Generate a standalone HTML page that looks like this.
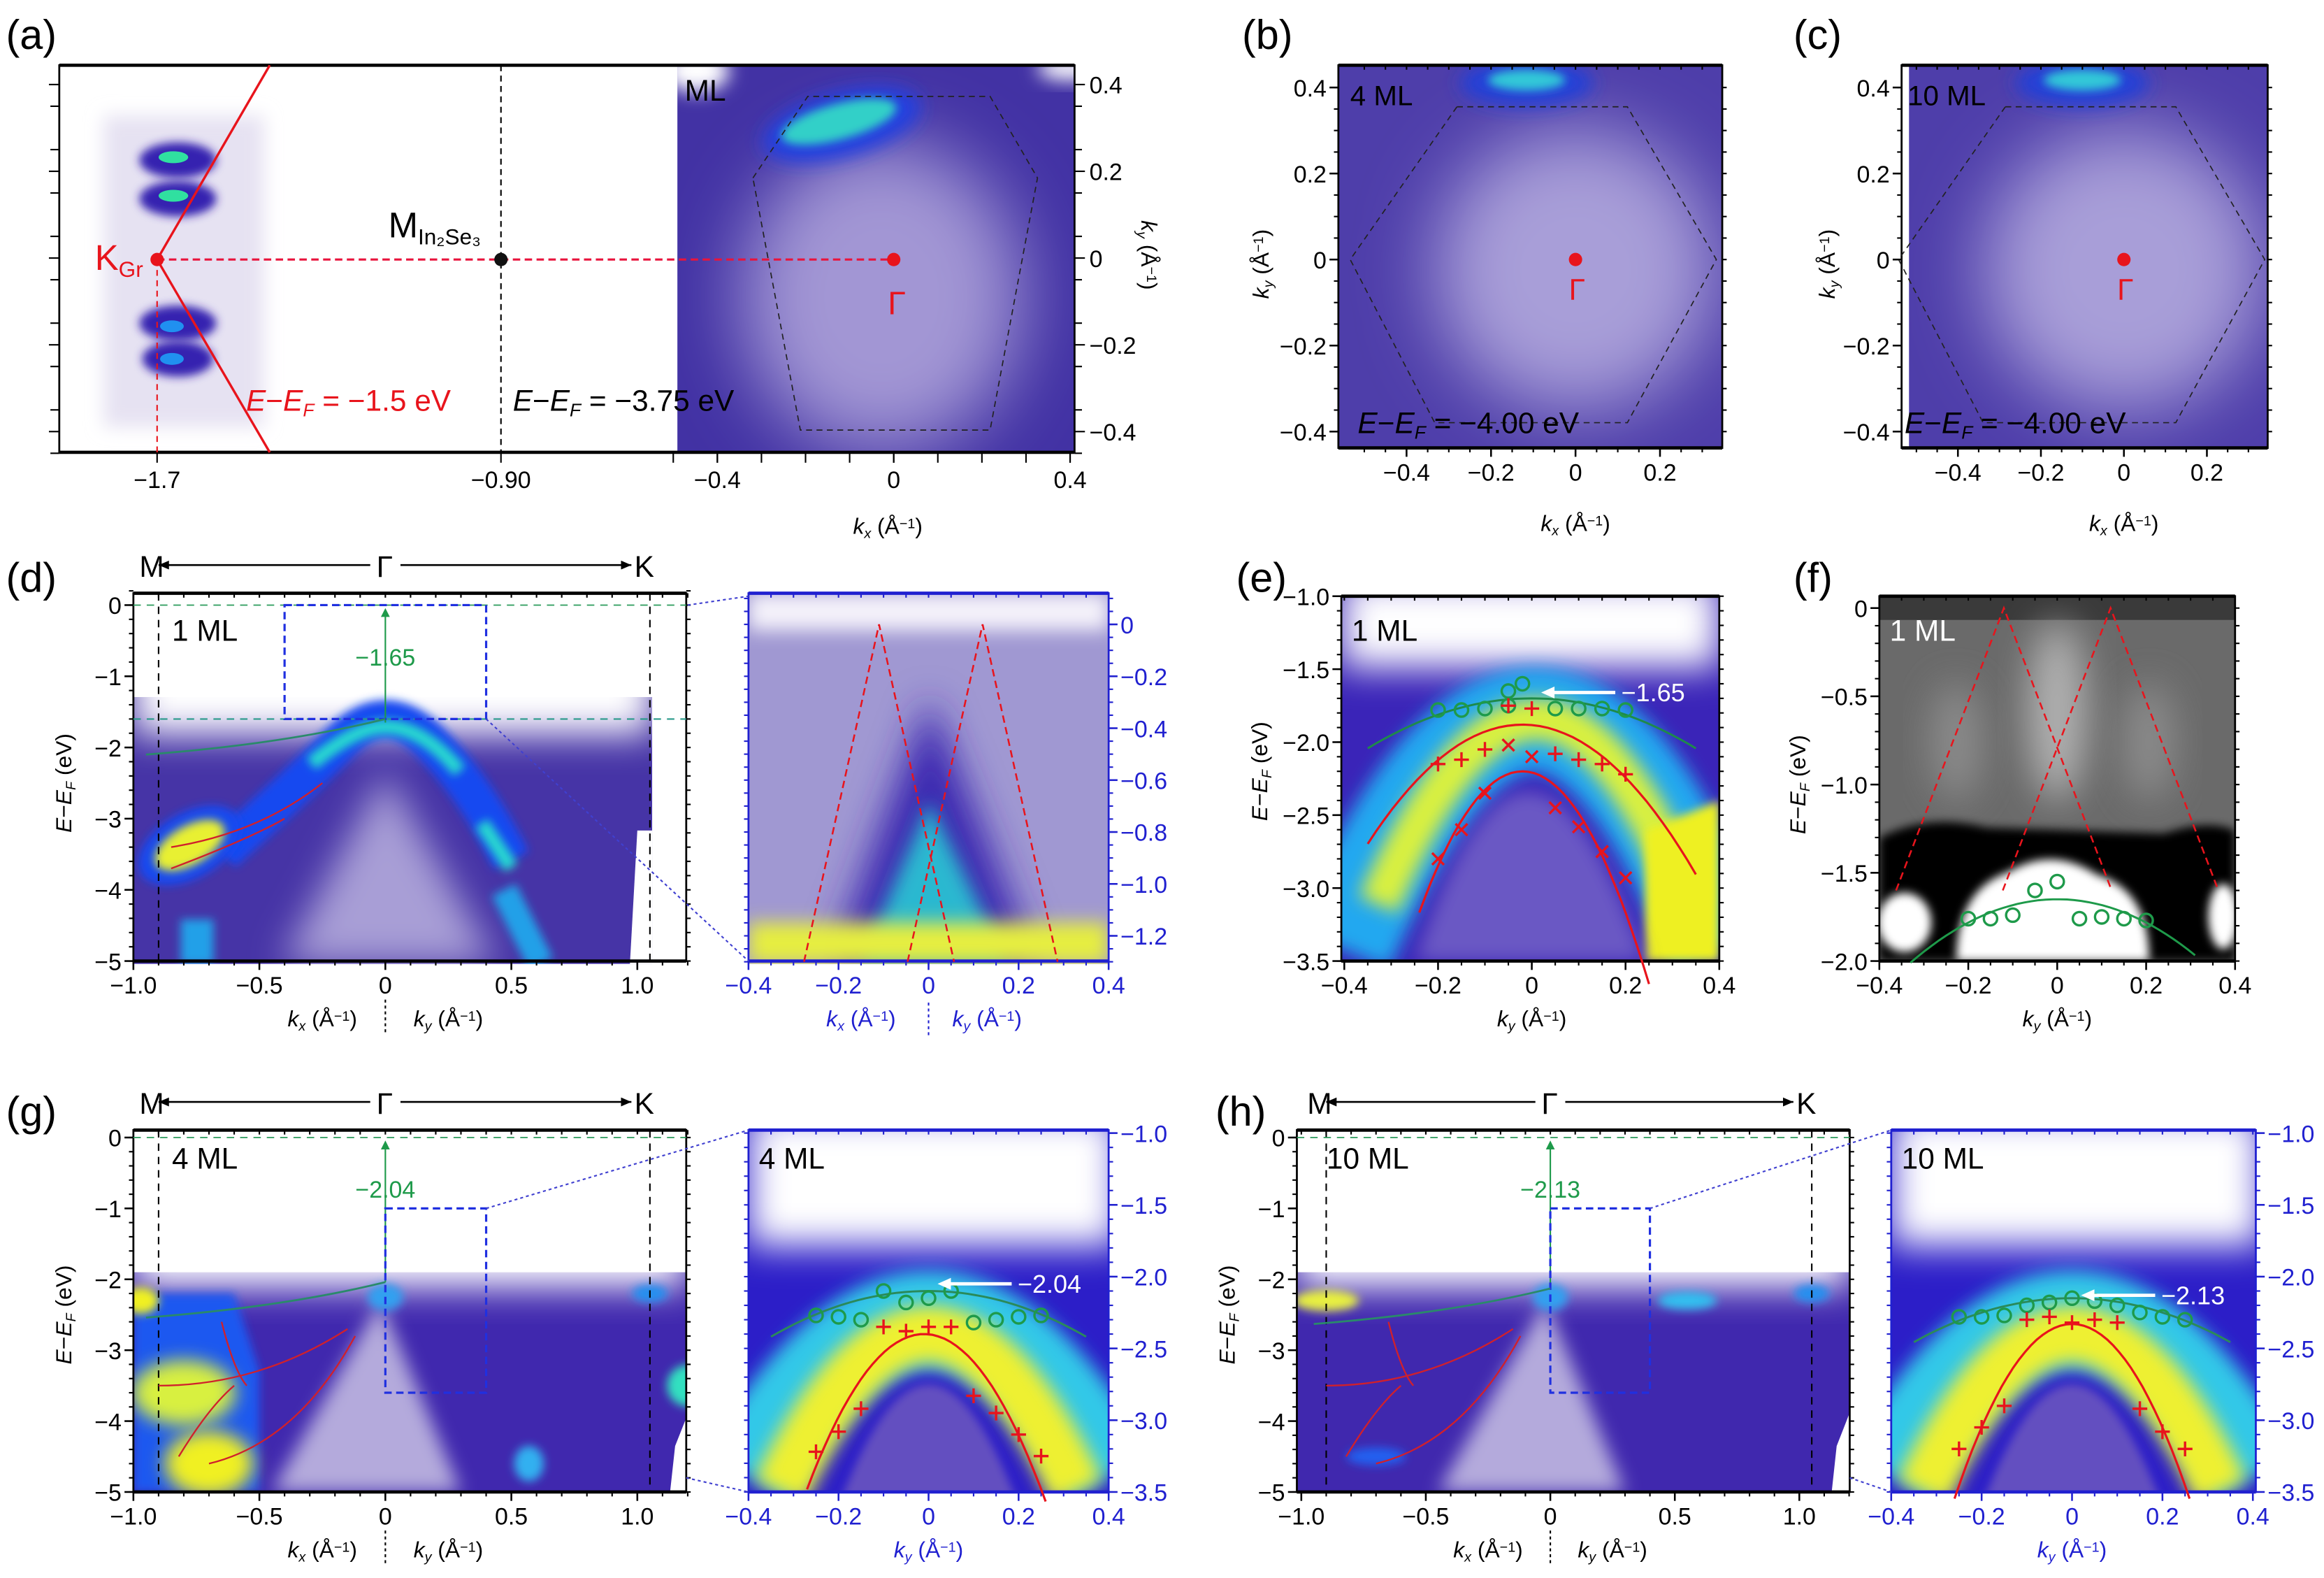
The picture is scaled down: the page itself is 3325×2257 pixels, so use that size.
<!DOCTYPE html>
<html><head><meta charset="utf-8"><style>
html,body{margin:0;padding:0;background:#fff}
svg{display:block}
text{font-family:"Liberation Sans",sans-serif}
</style></head><body>
<svg id="fig" xmlns="http://www.w3.org/2000/svg" width="3325" height="2257" viewBox="0 0 1568 1064" preserveAspectRatio="none">
<defs>
<filter id="b3" x="-50%" y="-50%" width="200%" height="200%"><feGaussianBlur stdDeviation="3"/></filter>
<filter id="b6" x="-50%" y="-50%" width="200%" height="200%"><feGaussianBlur stdDeviation="6"/></filter>
<filter id="b12" x="-50%" y="-50%" width="200%" height="200%"><feGaussianBlur stdDeviation="12"/></filter>
<filter id="b25" x="-50%" y="-50%" width="200%" height="200%"><feGaussianBlur stdDeviation="25"/></filter>
<clipPath id="cA"><rect x="457" y="44" width="268" height="261"/></clipPath>
<clipPath id="cB"><rect x="903" y="44" width="259" height="258"/></clipPath>
<clipPath id="cC"><rect x="1283" y="44" width="247" height="258"/></clipPath>
<clipPath id="cDL"><rect x="90" y="400" width="373" height="250"/></clipPath>
<clipPath id="cDR"><rect x="505" y="400" width="243" height="250"/></clipPath>
<clipPath id="cE"><rect x="905" y="402" width="255" height="246"/></clipPath>
<clipPath id="cF"><rect x="1268" y="402" width="240" height="246"/></clipPath>
<clipPath id="cGL"><rect x="90" y="762" width="373" height="244"/></clipPath>
<clipPath id="cGR"><rect x="505" y="762" width="243" height="244"/></clipPath>
<clipPath id="cHL"><rect x="875" y="762" width="373" height="244"/></clipPath>
<clipPath id="cHR"><rect x="1276" y="762" width="246" height="244"/></clipPath>
</defs>
<g id="dyn"></g>
</svg>
<script>
// ---------------- DATA ----------------
const aTickLabels = ["-1.7","-0.90","-0.4","0","0.4"];
const aTickVals = [-1.7,-0.90,-0.4,0,0.4];
const kyTicksA = [0.4,0.2,0,-0.2,-0.4];
const bcXTicks = [-0.4,-0.2,0,0.2];
const bcYTicks = [0.4,0.2,0,-0.2,-0.4];
const wideXTicks = [-1.0,-0.5,0,0.5,1.0];
const wideXLabels = ["-1.0","-0.5","0","0.5","1.0"];
const wideYTicks = [0,-1,-2,-3,-4,-5];
const zoomXTicks = [-0.4,-0.2,0,0.2,0.4];
const dRYTicks = [0,-0.2,-0.4,-0.6,-0.8,-1.0,-1.2];
const eYTicks = [-1.0,-1.5,-2.0,-2.5,-3.0,-3.5];
const fYTicks = [0,-0.5,-1.0,-1.5,-2.0];
const ghRYTicks = [-1.0,-1.5,-2.0,-2.5,-3.0,-3.5];
// panel e
const eCircK = [-0.2,-0.15,-0.1,-0.05,-0.05,-0.02,0.05,0.1,0.15,0.2];
const eCircE = [-1.78,-1.78,-1.77,-1.75,-1.65,-1.6,-1.77,-1.77,-1.77,-1.78];
const ePlusK = [-0.2,-0.15,-0.1,-0.05,0,0.05,0.1,0.15,0.2];
const ePlusE = [-2.15,-2.12,-2.05,-1.75,-1.77,-2.08,-2.12,-2.15,-2.22];
const eCrossK = [-0.2,-0.15,-0.1,-0.05,0,0.05,0.1,0.15,0.2];
const eCrossE = [-2.8,-2.6,-2.35,-2.02,-2.1,-2.45,-2.58,-2.75,-2.93];
const eGreen = {peak:-1.7, curv:2.8};
const eRed1 = {peak:-1.88, curv:7.5, x0:-0.02};
const eRed2 = {peak:-2.2, curv:20, x0:-0.02};
// panel f
const fCircK = [-0.2,-0.15,-0.1,-0.05,0,0.05,0.1,0.15,0.2];
const fCircE = [-1.76,-1.76,-1.74,-1.6,-1.55,-1.76,-1.75,-1.76,-1.77];
const fGreen = {peak:-1.65, curv:3.3};
const fDirac = [-0.12, 0.12];
const fDiracSlope = 6.6;
// panel d right
const dDirac = [-0.11, 0.12];
const dDiracSlope = 7.8;
// panel g right
const gCircK = [-0.25,-0.2,-0.15,-0.1,-0.05,0,0.05,0.1,0.15,0.2,0.25];
const gCircE = [-2.27,-2.28,-2.3,-2.1,-2.18,-2.15,-2.1,-2.32,-2.3,-2.28,-2.27];
const gPlusK = [-0.25,-0.2,-0.15,-0.1,-0.05,0,0.05,0.1,0.15,0.2,0.25];
const gPlusE = [-3.22,-3.08,-2.92,-2.35,-2.38,-2.35,-2.35,-2.83,-2.95,-3.1,-3.25];
const gGreen = {peak:-2.1, curv:2.6};
const gRed = {peak:-2.4, curv:16, x0:-0.01};
// panel h right
const hCircK = [-0.25,-0.2,-0.15,-0.1,-0.05,0,0.05,0.1,0.15,0.2,0.25];
const hCircE = [-2.28,-2.28,-2.27,-2.2,-2.18,-2.15,-2.17,-2.2,-2.25,-2.28,-2.3];
const hPlusK = [-0.25,-0.2,-0.15,-0.1,-0.05,0,0.05,0.1,0.15,0.2,0.25];
const hPlusE = [-3.2,-3.05,-2.9,-2.3,-2.28,-2.32,-2.3,-2.32,-2.92,-3.08,-3.2];
const hGreen = {peak:-2.15, curv:2.5};
const hRed = {peak:-2.33, curv:18, x0:0};

// ---------------- HELPERS ----------------
const NS="http://www.w3.org/2000/svg";
const root=document.getElementById('dyn');
const TS=16;
function mk(tag,attrs,parent,name){
  const e=document.createElementNS(NS,tag);
  for(const k in attrs) e.setAttribute(k,attrs[k]);
  
  
  (parent||root).appendChild(e);return e;
}
function txt(x,y,s,size,fill,parent,name,anchor,extra){
  const t=mk('text',Object.assign({x:x,y:y,'font-size':size,fill:fill,'text-anchor':anchor||'middle'},extra||{}),parent,name);
  t.textContent=s;return t;
}
function rich(x,y,parts,size,fill,name,anchor,extra){
  const t=mk('text',Object.assign({x:x,y:y,'font-size':size,fill:fill,'text-anchor':anchor||'start'},extra||{}),root,name);
  parts.forEach(([s,st])=>{const sp=document.createElementNS(NS,'tspan');
    if(st&&st.includes('i'))sp.setAttribute('font-style','italic');
    if(st&&st.includes('s')){sp.setAttribute('baseline-shift','-30%');sp.setAttribute('font-size',size*0.62);}
    if(st&&st.includes('p')){sp.setAttribute('baseline-shift','40%');sp.setAttribute('font-size',size*0.62);}
    sp.textContent=s;t.appendChild(sp);});
  return t;
}
const kUnit=(sub)=>[['k','i'],[sub,'is'],[' (\u00c5','' ],['\u22121','p'],[')','']];
const EEF=[['E','i'],['\u2212',''],['E','i'],['F','is'],[' (eV)','']];
function lin(d0,d1,p0,p1){return v=>p0+(v-d0)*(p1-p0)/(d1-d0);}
function fmt(v){return v===0?"0":(v<0?"\u2212":"")+Math.abs(v).toFixed(1);}
function bg(parent,shapes){shapes.forEach(s=>mk(s[0],s[1],parent,s[2]));}

function xAxis(p,vals,labels,color){
  const g=mk('g',{},root,p.name+'-x-axis');
  for(let v=p.xd0;v<=p.xd1+1e-9;v+=p.xminor){
    const x=p.sx(v);
    mk('line',{x1:x,y1:p.y1,x2:x,y2:p.y1+3,stroke:color,'stroke-width':1},g,'x-minor-tick');
    mk('line',{x1:x,y1:p.y0,x2:x,y2:p.y0+3,stroke:color,'stroke-width':1},g,'x-minor-tick-top');
  }
  vals.forEach((v,i)=>{const x=p.sx(v);
    mk('line',{x1:x,y1:p.y1,x2:x,y2:p.y1+6,stroke:color,'stroke-width':1.2},g,'x-major-tick');
    txt(x,p.y1+22,labels?labels[i].replace('-','\u2212'):fmt(v),TS,color,g,'x-tick-label');});
}
function yAxis(p,vals,side,color,labelDec){
  const g=mk('g',{},root,p.name+'-y-axis');
  const lo=Math.min(p.yd0,p.yd1),hi=Math.max(p.yd0,p.yd1);
  for(let v=lo;v<=hi+1e-9;v+=p.yminor){const y=p.sy(v);
    mk('line',{x1:p.x0,y1:y,x2:p.x0-3,y2:y,stroke:color},g,'y-minor-tick');
    mk('line',{x1:p.x1,y1:y,x2:p.x1+3,y2:y,stroke:color},g,'y-minor-tick-right');}
  vals.forEach(v=>{const y=p.sy(v);
    const x=side==='left'?p.x0:p.x1, d=side==='left'?-6:6;
    mk('line',{x1:x,y1:y,x2:x+d,y2:y,stroke:color,'stroke-width':1.2},g,'y-major-tick');
    const s=labelDec===0?(v===0?"0":"\u2212"+Math.abs(v)):fmt(v);
    txt(side==='left'?x-8:x+8,y+6,s,TS,color,g,'y-tick-label',side==='left'?'end':'start');});
}
function frame(p,color,name){mk('rect',{x:p.x0,y:p.y0,width:p.x1-p.x0,height:p.y1-p.y0,fill:'none',stroke:color,'stroke-width':1.3},root,name);
  mk('line',{x1:p.x0,y1:p.y0,x2:p.x1,y2:p.y0,stroke:color,'stroke-width':2.2},root,name+'-top');
  mk('line',{x1:p.x0,y1:p.y1,x2:p.x1,y2:p.y1,stroke:color,'stroke-width':2.2},root,name+'-bottom');}
function parab(p,c,k0,k1,stroke,w,name){
  let d="";for(let i=0;i<=40;i++){const k=k0+(k1-k0)*i/40;const E=c.peak-c.curv*Math.pow(k-(c.x0||0),2);
    d+=(i?"L":"M")+p.sx(k).toFixed(1)+","+p.sy(E).toFixed(1);}
  return mk('path',{d:d,fill:'none',stroke:stroke,'stroke-width':w},root,name);
}
function circles(p,ks,es,name){ks.forEach((k,i)=>mk('circle',{cx:p.sx(k),cy:p.sy(es[i]),r:4.5,fill:'none',stroke:'#1e9a4a','stroke-width':1.6},root,name));}
function pluses(p,ks,es,name){ks.forEach((k,i)=>{const x=p.sx(k),y=p.sy(es[i]);
  mk('path',{d:`M${x-5},${y}H${x+5}M${x},${y-5}V${y+5}`,stroke:'#e8141c','stroke-width':1.6},root,name);});}
function crosses(p,ks,es,name){ks.forEach((k,i)=>{const x=p.sx(k),y=p.sy(es[i]);
  mk('path',{d:`M${x-4},${y-4}L${x+4},${y+4}M${x+4},${y-4}L${x-4},${y+4}`,stroke:'#e8141c','stroke-width':1.6},root,name);});}
function dirac(p,apexes,slope,Ebot,name){apexes.forEach(a=>{const dk=-Ebot/slope;
  mk('path',{d:`M${p.sx(a-dk)},${p.sy(Ebot)}L${p.sx(a)},${p.sy(0)}L${p.sx(a+dk)},${p.sy(Ebot)}`,fill:'none',stroke:'#e8141c','stroke-width':1.2,'stroke-dasharray':'5,3'},root,name);});}

// ---------------- PANELS ----------------
const P={
 a:{name:'panel-a',x0:40,x1:725,y0:44,y1:305,sx:lin(0,0.4,603,722),sy:lin(0,0.4,174,57),yd0:-0.45,yd1:0.45,yminor:0.1},
 b:{name:'panel-b',x0:903,x1:1162,y0:44,y1:302,sx:lin(0,0.2,1063,1120),sy:lin(0,0.4,175,59),xd0:-0.5,xd1:0.3,xminor:0.05,yd0:-0.4,yd1:0.4,yminor:0.05},
 c:{name:'panel-c',x0:1283,x1:1530,y0:44,y1:302,sx:lin(0,0.2,1433,1489),sy:lin(0,0.4,175,59),xd0:-0.5,xd1:0.3,xminor:0.05,yd0:-0.4,yd1:0.4,yminor:0.05},
 dL:{name:'panel-d-wide',x0:90,x1:463,y0:400,y1:648,sx:lin(0,1,260,430),sy:lin(0,-5,408,648),xd0:-1,xd1:1.2,xminor:0.1,yd0:-5,yd1:0.2,yminor:0.2},
 dR:{name:'panel-d-zoom',x0:505,x1:748,y0:400,y1:648,sx:lin(-0.4,0.4,505,748),sy:lin(0,-1.2,421,631),xd0:-0.4,xd1:0.4,xminor:0.05,yd0:-1.3,yd1:0.1,yminor:0.05},
 e:{name:'panel-e',x0:905,x1:1160,y0:402,y1:648,sx:lin(-0.4,0.4,907,1160),sy:lin(-1,-3.5,402,648),xd0:-0.4,xd1:0.4,xminor:0.05,yd0:-3.5,yd1:-1,yminor:0.1},
 f:{name:'panel-f',x0:1268,x1:1508,y0:402,y1:648,sx:lin(-0.4,0.4,1268,1508),sy:lin(0,-2,410,648),xd0:-0.4,xd1:0.4,xminor:0.05,yd0:-2,yd1:0,yminor:0.1},
 gL:{name:'panel-g-wide',x0:90,x1:463,y0:762,y1:1006,sx:lin(0,1,260,430),sy:lin(0,-5,767,1006),xd0:-1,xd1:1.2,xminor:0.1,yd0:-5,yd1:0,yminor:0.2},
 gR:{name:'panel-g-zoom',x0:505,x1:748,y0:762,y1:1006,sx:lin(-0.4,0.4,505,748),sy:lin(-1,-3.5,764,1006),xd0:-0.4,xd1:0.4,xminor:0.05,yd0:-3.5,yd1:-1,yminor:0.1},
 hL:{name:'panel-h-wide',x0:875,x1:1248,y0:762,y1:1006,sx:lin(0,1,1046,1214),sy:lin(0,-5,767,1006),xd0:-1,xd1:1.2,xminor:0.1,yd0:-5,yd1:0,yminor:0.2},
 hR:{name:'panel-h-zoom',x0:1276,x1:1522,y0:762,y1:1006,sx:lin(-0.4,0.4,1276,1520),sy:lin(-1,-3.5,764,1006),xd0:-0.4,xd1:0.4,xminor:0.05,yd0:-3.5,yd1:-1,yminor:0.1}
};

// ---- image backgrounds ----
function imgGroup(clip,name){return mk('g',{'clip-path':`url(#${clip})`},root,name);}
let g=imgGroup('cA','panel-a-fermi-map');
bg(g,[['rect',{x:457,y:44,width:268,height:261,fill:'#4232a4'},'map-bg'],
 ['ellipse',{cx:595,cy:200,rx:95,ry:105,fill:'#a296d4',filter:'url(#b25)'},'map-center'],
 ['ellipse',{cx:568,cy:84,rx:55,ry:22,fill:'#2040e0',filter:'url(#b6)',transform:'rotate(-15 568 84)'},'map-blob'],
 ['ellipse',{cx:566,cy:82,rx:40,ry:12,fill:'#30d0c8',filter:'url(#b3)',transform:'rotate(-15 566 82)'},'map-blob-core'],
 ['ellipse',{cx:470,cy:48,rx:22,ry:14,fill:'#fff',filter:'url(#b6)'},'map-corner'],
 ['ellipse',{cx:722,cy:46,rx:22,ry:8,fill:'#fff',filter:'url(#b6)'},'map-corner2']]);
g=mk('g',{},root,'panel-a-graphene-blob');
bg(g,[['rect',{x:70,y:78,width:108,height:210,fill:'#e6e2f2',filter:'url(#b6)'},'gr-bg'],
 ['ellipse',{cx:120,cy:108,rx:26,ry:12,fill:'#3422b0',filter:'url(#b3)'},'gr-arc1'],
 ['ellipse',{cx:120,cy:134,rx:26,ry:12,fill:'#3422b0',filter:'url(#b3)'},'gr-arc2'],
 ['ellipse',{cx:120,cy:218,rx:26,ry:12,fill:'#3422b0',filter:'url(#b3)'},'gr-arc3'],
 ['ellipse',{cx:120,cy:242,rx:24,ry:12,fill:'#3422b0',filter:'url(#b3)'},'gr-arc4'],
 ['ellipse',{cx:117,cy:106,rx:10,ry:4,fill:'#30e0a0'},'gr-c1'],['ellipse',{cx:117,cy:132,rx:10,ry:4,fill:'#30e0a0'},'gr-c2'],
 ['ellipse',{cx:116,cy:220,rx:8,ry:4,fill:'#2090f0'},'gr-c3'],['ellipse',{cx:116,cy:242,rx:8,ry:4,fill:'#2090f0'},'gr-c4']]);
[['cB',1063,1030],['cC',1433,1405]].forEach(([c,cx,bx],i)=>{
 const gg=imgGroup(c,i?'panel-c-fermi-map':'panel-b-fermi-map');
 bg(gg,[['rect',{x:cx-170,y:44,width:340,height:260,fill:'#4e3eaa'},'map-bg'],
 ['ellipse',{cx:cx,cy:182,rx:95,ry:95,fill:'#a89ed8',filter:'url(#b25)'},'map-center'],
 ['ellipse',{cx:bx,cy:56,rx:45,ry:16,fill:'#2040d8',filter:'url(#b6)'},'map-blob'],
 ['ellipse',{cx:bx,cy:54,rx:26,ry:7,fill:'#30c8d8',filter:'url(#b3)'},'map-blob-core']]);
});
mk('rect',{x:1283,y:44,width:5,height:258,fill:'#fff'},root,'panel-c-edge');
g=imgGroup('cDL','panel-d-band-map');
bg(g,[['rect',{x:90,y:470,width:350,height:180,fill:'#4634a6'},'band-bg'],
 ['rect',{x:90,y:440,width:350,height:55,fill:'#fff',filter:'url(#b12)'},'band-fade'],
 ['polygon',{points:'190,650 260,520 335,650',fill:'#a89ed6',filter:'url(#b12)'},'band-inner'],
 ['path',{d:'M150,575 Q200,530 230,500 Q260,470 290,500 Q320,530 345,580',fill:'none',stroke:'#1848f0','stroke-width':26,filter:'url(#b3)'},'band-arch'],
 ['path',{d:'M210,515 Q240,490 260,490 Q285,490 310,520 M325,555 L345,585',fill:'none',stroke:'#28d8d0','stroke-width':10,filter:'url(#b3)'},'band-arch-core'],
 ['ellipse',{cx:128,cy:570,rx:38,ry:22,fill:'#1848f0',transform:'rotate(-30 128 570)',filter:'url(#b3)'},'blob-blue'],
 ['ellipse',{cx:128,cy:570,rx:26,ry:13,fill:'#e8f030',transform:'rotate(-30 128 570)',filter:'url(#b3)'},'blob-yellow'],
 ['rect',{x:122,y:620,width:22,height:30,fill:'#20a0e8',filter:'url(#b3)'},'blob-bottom1'],
 ['path',{d:'M340,600 L365,650',stroke:'#20a0e8','stroke-width':18,filter:'url(#b3)'},'blob-bottom2'],
 ['polygon',{points:'430,560 440,560 440,650 425,650',fill:'#fff'},'edge-white']]);
g=imgGroup('cDR','panel-d-zoom-map');
bg(g,[['rect',{x:505,y:400,width:243,height:250,fill:'#a098d2'},'zoom-bg'],
 ['rect',{x:505,y:400,width:243,height:25,fill:'#f4f2fa',filter:'url(#b6)'},'zoom-top'],
 ['polygon',{points:'560,650 627,470 700,650',fill:'#3a28b0',filter:'url(#b12)'},'zoom-dark'],
 ['polygon',{points:'580,650 627,540 680,650',fill:'#2ab8d0',filter:'url(#b6)'},'zoom-cyan'],
 ['rect',{x:505,y:622,width:243,height:28,fill:'#e6ee40',filter:'url(#b6)'},'zoom-yellow']]);
g=imgGroup('cE','panel-e-map');
bg(g,[['rect',{x:905,y:402,width:255,height:246,fill:'#3a24b8'},'e-bg'],
 ['rect',{x:905,y:390,width:255,height:60,fill:'#fff',filter:'url(#b12)'},'e-top'],
 ['path',{d:'M905,640 Q1038,330 1160,640',fill:'none',stroke:'#24a8f0','stroke-width':70,filter:'url(#b6)'},'e-arch'],
 ['path',{d:'M930,610 Q1038,360 1140,610',fill:'none',stroke:'#d8f040','stroke-width':28,filter:'url(#b6)'},'e-arch-core'],
 ['polygon',{points:'1110,560 1160,540 1160,648 1110,648',fill:'#eef020',filter:'url(#b3)'},'e-yellow'],
 ['path',{d:'M955,648 Q1030,420 1110,648Z',fill:'#6a58c4',filter:'url(#b6)'},'e-inner']]);
g=imgGroup('cF','panel-f-map');
bg(g,[['rect',{x:1268,y:402,width:240,height:246,fill:'#6a6a6a'},'f-bg'],
 ['rect',{x:1268,y:402,width:240,height:16,fill:'#3a3a3a'},'f-topband'],
 ['ellipse',{cx:1388,cy:480,rx:20,ry:60,fill:'#b0b0b0',filter:'url(#b12)'},'f-light'],
 ['ellipse',{cx:1320,cy:500,rx:18,ry:40,fill:'#8a8a8a',filter:'url(#b12)'},'f-light2'],
 ['ellipse',{cx:1450,cy:500,rx:18,ry:40,fill:'#8a8a8a',filter:'url(#b12)'},'f-light3'],
 ['path',{d:'M1268,565 Q1300,548 1340,558 L1460,562 Q1490,552 1508,560 V648 H1268Z',fill:'#000',filter:'url(#b3)'},'f-black'],
 ['path',{d:'M1320,648 Q1320,600 1355,588 Q1385,570 1415,590 Q1450,600 1450,648Z',fill:'#fff',filter:'url(#b3)'},'f-white'],
 ['ellipse',{cx:1285,cy:622,rx:18,ry:20,fill:'#fff',filter:'url(#b3)'},'f-white2'],
 ['ellipse',{cx:1500,cy:618,rx:10,ry:22,fill:'#fff',filter:'url(#b3)'},'f-white3']]);
[['cGL',P.gL,'panel-g-band-map',1],['cHL',P.hL,'panel-h-band-map',0]].forEach(([c,p,n,yel])=>{
 const gg=imgGroup(c,n), s=p.sx, x0=p.x0, top=p.sy(-1.9);
 bg(gg,[['rect',{x:x0,y:top,width:373,height:200,fill:'#4028ae'},'band-bg'],
 ['rect',{x:x0,y:top-40,width:373,height:50,fill:'#fff',filter:'url(#b12)'},'band-fade'],
 ['polygon',{points:`${s(-0.45)},1006 ${s(-0.02)},${p.sy(-2.3)} ${s(0.3)},1006`,fill:'#b4aadc',filter:'url(#b6)'},'band-inner'],
 ['ellipse',{cx:s(0),cy:p.sy(-2.25),rx:12,ry:9,fill:'#30a0f0',filter:'url(#b3)'},'gamma-spot'],
 ['ellipse',{cx:s(1.05),cy:p.sy(-2.2),rx:12,ry:6,fill:'#2090f0',filter:'url(#b3)'},'k-spot']]);
 if(yel){bg(gg,[['polygon',{points:`${x0},${p.sy(-2.2)} ${s(-0.6)},${p.sy(-2.2)} ${s(-0.5)},${p.sy(-3.3)} ${s(-0.5)},1006 ${x0},1006`,fill:'#1c58f0',filter:'url(#b3)'},'blob-blue'],
  ['ellipse',{cx:s(-0.8),cy:p.sy(-3.6),rx:35,ry:22,fill:'#d8f040',filter:'url(#b6)'},'blob-yellow1'],
  ['ellipse',{cx:s(-0.7),cy:p.sy(-4.6),rx:30,ry:22,fill:'#f0f020',filter:'url(#b6)'},'blob-yellow2'],
  ['ellipse',{cx:s(-0.97),cy:p.sy(-2.3),rx:12,ry:9,fill:'#f0f020',filter:'url(#b3)'},'blob-yellow3'],
  ['ellipse',{cx:s(0.57),cy:p.sy(-4.6),rx:10,ry:12,fill:'#30b0f0',filter:'url(#b3)'},'blob-bottom'],
  ['ellipse',{cx:s(1.2),cy:p.sy(-3.5),rx:14,ry:14,fill:'#30e0c0',filter:'url(#b3)'},'blob-right']]);}
 else{bg(gg,[['ellipse',{cx:s(-0.9),cy:p.sy(-2.3),rx:22,ry:7,fill:'#e8f040',filter:'url(#b3)'},'blob-yellow'],
  ['ellipse',{cx:s(0.55),cy:p.sy(-2.3),rx:20,ry:6,fill:'#30c0f0',filter:'url(#b3)'},'blob-cyan'],
  ['ellipse',{cx:s(-0.7),cy:p.sy(-4.5),rx:20,ry:6,fill:'#2060f0',filter:'url(#b3)'},'blob-blue']]);}
 mk('polygon',{points:`${s(1.15)},975 ${s(1.22)},945 ${s(1.22)},1006 ${s(1.13)},1006`,fill:'#fff'},gg,'edge-white');
});
[['cGR',P.gR,gRed,'panel-g-zoom-map'],['cHR',P.hR,hRed,'panel-h-zoom-map']].forEach(([c,p,r,n])=>{
 const gg=imgGroup(c,n), s=p.sx, y=p.sy;
 bg(gg,[['rect',{x:p.x0,y:762,width:250,height:244,fill:'#2c1ec8'},'zoom-bg'],
 ['rect',{x:p.x0,y:750,width:250,height:90,fill:'#fff',filter:'url(#b12)'},'zoom-top'],
 ['path',{d:`M${s(-0.4)},${y(-3.4)} Q${s(0)},${y(-1.2)} ${s(0.4)},${y(-3.4)}`,fill:'none',stroke:'#30c8e8','stroke-width':66,filter:'url(#b6)'},'zoom-arch'],
 ['path',{d:`M${s(-0.33)},${y(-3.5)} Q${s(0)},${y(-1.3)} ${s(0.33)},${y(-3.5)}`,fill:'none',stroke:'#eef030','stroke-width':38,filter:'url(#b6)'},'zoom-arch-core'],
 ['path',{d:`M${s(-0.2)},${y(-3.6)} Q${s(0)},${y(-1.9)} ${s(0.2)},${y(-3.6)}Z`,fill:'#6450c0',filter:'url(#b3)'},'zoom-inner']]);
});

// ---- frames & axes ----
frame(P.a,'#000','panel-a-frame');
(function(){const gA=mk('g',{},root,'panel-a-axes');
 aTickVals.forEach((v,i)=>{const x=v<-0.5?(v===-1.7?106:338):P.a.sx(v);
  mk('line',{x1:x,y1:305,x2:x,y2:312,stroke:'#000'},gA,'x-major-tick');
  txt(x,329,aTickLabels[i].replace('-','\u2212'),TS,'#000',gA,'x-tick-label');});
 for(let v=-0.5;v<=0.41;v+=0.1){const x=P.a.sx(v);mk('line',{x1:x,y1:305,x2:x,y2:312,stroke:'#000'},gA,'x-minor-tick');}
 for(let v=-0.45;v<=0.45;v+=0.1){const y=P.a.sy(v);
  mk('line',{x1:40,y1:y,x2:34,y2:y,stroke:'#000'},gA,'y-minor-tick');mk('line',{x1:725,y1:y,x2:730,y2:y,stroke:'#000'},gA,'y-minor-tick');}
 kyTicksA.forEach(v=>{const y=P.a.sy(v);mk('line',{x1:40,y1:y,x2:33,y2:y,stroke:'#000'},gA,'y-tick-left');
  mk('line',{x1:725,y1:y,x2:732,y2:y,stroke:'#000'},gA,'y-tick');txt(735,y+6,fmt(v),TS,'#000',gA,'y-tick-label','start');});
})();
xAxis(P.b,bcXTicks,null,'#000');yAxis(P.b,bcYTicks,'left','#000');frame(P.b,'#000','panel-b-frame');
xAxis(P.c,bcXTicks,null,'#000');yAxis(P.c,bcYTicks,'left','#000');frame(P.c,'#000','panel-c-frame');
[P.dL,P.gL,P.hL].forEach(p=>{xAxis(p,wideXTicks,wideXLabels,'#000');yAxis(p,wideYTicks,'left','#000',0);frame(p,'#000',p.name+'-frame');});
xAxis(P.dR,zoomXTicks,null,'#2020d0');yAxis(P.dR,dRYTicks,'right','#2020d0');frame(P.dR,'#2020d0','panel-d-zoom-frame');
xAxis(P.e,zoomXTicks,null,'#000');yAxis(P.e,eYTicks,'left','#000');frame(P.e,'#000','panel-e-frame');
xAxis(P.f,zoomXTicks,null,'#000');yAxis(P.f,fYTicks,'left','#000');frame(P.f,'#000','panel-f-frame');
xAxis(P.gR,zoomXTicks,null,'#2020d0');yAxis(P.gR,ghRYTicks,'right','#2020d0');frame(P.gR,'#2020d0','panel-g-zoom-frame');
xAxis(P.hR,zoomXTicks,null,'#2020d0');yAxis(P.hR,ghRYTicks,'right','#2020d0');frame(P.hR,'#2020d0','panel-h-zoom-frame');

// ---- overlays (a) ----
mk('path',{d:'M182,44 L106,175 L182,305',fill:'none',stroke:'#e8141c','stroke-width':1.6},root,'graphene-dirac-cone');
mk('line',{x1:106,y1:175,x2:106,y2:305,stroke:'#e8141c','stroke-dasharray':'4,3'},root,'kgr-vline');
mk('line',{x1:338,y1:44,x2:338,y2:305,stroke:'#000','stroke-dasharray':'4,3'},root,'m-vline');
mk('line',{x1:106,y1:175,x2:603,y2:175,stroke:'#e8143c','stroke-width':1.5,'stroke-dasharray':'5,3'},root,'path-line');
mk('circle',{cx:106,cy:175,r:4.5,fill:'#e8141c'},root,'kgr-point');
mk('circle',{cx:338,cy:175,r:4.5,fill:'#111'},root,'m-point');
mk('circle',{cx:603,cy:175,r:4.5,fill:'#e8141c'},root,'gamma-point');
mk('path',{d:'M508,120 L545,65 L668,65 L700,120 L668,290 L540,290 Z',fill:'none',stroke:'#222','stroke-dasharray':'4,3','stroke-width':0.8},root,'bz-hexagon-a');
[[P.b,1063],[P.c,1433]].forEach(([p,cx])=>{mk('path',{d:`M${cx-80},72 L${cx+35},72 L${cx+95},175 L${cx+35},285 L${cx-95},285 L${cx-152},175 Z`,fill:'none',stroke:'#222','stroke-dasharray':'4,3','stroke-width':0.8},root,'bz-hexagon');
 mk('circle',{cx:cx,cy:175,r:4.5,fill:'#e8141c'},root,'gamma-point');
 txt(cx+1,202,'\u0393',20,'#e8141c',root,'gamma-label');});

// ---- labels ----
const L=(x,y,s,sz,fill,name,anc,extra)=>txt(x,y,s,sz,fill,root,name,anc||'start',extra);
const PL=28;
L(4,33,'(a)',PL,'#000','label-a');L(838,33,'(b)',PL,'#000','label-b');L(1210,33,'(c)',PL,'#000','label-c');
L(4,399,'(d)',PL,'#000','label-d');L(834,399,'(e)',PL,'#000','label-e');L(1210,399,'(f)',PL,'#000','label-f');
L(4,759,'(g)',PL,'#000','label-g');L(820,759,'(h)',PL,'#000','label-h');
L(462,68,'ML',20,'#000','ml-label');
rich(64,182,[['K',''],['Gr','s']],24,'#e8141c','kgr-label');
rich(262,160,[['M',''],['In\u2082Se\u2083','s']],24,'#000','m-label');
L(599,212,'\u0393',22,'#e8141c','gamma-a-label');
rich(166,277,[['E','i'],['\u2212',''],['E','i'],['F','is'],[' = \u22121.5 eV','']],20,'#e8141c','ef-red-label');
rich(346,277,[['E','i'],['\u2212',''],['E','i'],['F','is'],[' = \u22123.75 eV','']],20,'#000','ef-black-label');
L(911,71,'4 ML',19,'#000','4ml-b');L(1287,71,'10 ML',19,'#000','10ml-c');
[[914,1063],[1283,1433]].forEach(([x,cx],i)=>{
 rich(x+2,292,[['E','i'],['\u2212',''],['E','i'],['F','is'],[' = \u22124.00 eV','']],20,'#000','ef-label');
 rich(cx,358,kUnit('x'),15,'#000','x-title','middle');});
rich(599,360,kUnit('x'),15,'#000','a-x-title','middle');
function vtitle(x,y,parts,col,name){rich(x,y,parts,15,col,name,'middle',{transform:`rotate(-90 ${x} ${y})`});}
vtitle(856,178,kUnit('y'),'#000','b-y-title');vtitle(1238,178,kUnit('y'),'#000','c-y-title');
rich(770,172,kUnit('y'),15,'#000','a-y-title','middle',{transform:'rotate(90 770 172)'});
[[P.dL,'d'],[P.gL,'g'],[P.hL,'h']].forEach(([p,n])=>{
 vtitle(p.x0-42,p.sy(-2.5),EEF,'#000',n+'-y-title');
 const s=p.sx;
 L(s(-1.0)+4,p.y0-11,'M',20,'#000',n+'-m-label');L(s(0)-6,p.y0-11,'\u0393',20,'#000',n+'-gamma-label');L(s(1.0)-2,p.y0-11,'K',20,'#000',n+'-k-label');
 mk('path',{d:`M${s(-0.9)},${p.y0-19}H${s(-0.06)}M${s(0.06)},${p.y0-19}H${s(1.0)-4}`,stroke:'#000','stroke-width':1.2},root,n+'-direction-arrows');
 mk('path',{d:`M${s(-0.9)},${p.y0-19}l7,-3v6z M${s(1.0)-4},${p.y0-19}l-7,-3v6z`,fill:'#000'},root,n+'-arrowheads');
 rich(s(-0.25),p.y1+44,kUnit('x'),15,'#000',n+'-x-title','middle');
 rich(s(0.25),p.y1+44,kUnit('y'),15,'#000',n+'-x-title2','middle');
 mk('line',{x1:s(0),y1:p.y1+26,x2:s(0),y2:p.y1+50,stroke:'#000','stroke-dasharray':'2,2'},root,n+'-x-divider');
 mk('line',{x1:s(-0.9),y1:p.y0,x2:s(-0.9),y2:p.y1,stroke:'#000','stroke-dasharray':'5,4'},root,n+'-m-line');
 mk('line',{x1:s(1.05),y1:p.y0,x2:s(1.05),y2:p.y1,stroke:'#000','stroke-dasharray':'5,4'},root,n+'-k-line');
 mk('line',{x1:p.x0,y1:p.sy(0),x2:p.x1,y2:p.sy(0),stroke:'#2a9a5a','stroke-dasharray':'5,4','stroke-width':0.8},root,n+'-ef-line');
});
L(116,432,'1 ML',20,'#000','1ml-d');L(116,788,'4 ML',20,'#000','4ml-g');L(895,788,'10 ML',20,'#000','10ml-h');
L(912,432,'1 ML',20,'#000','1ml-e');L(1275,432,'1 ML',20,'#fff','1ml-f');L(512,788,'4 ML',20,'#000','4ml-gz');L(1283,788,'10 ML',20,'#000','10ml-hz');
[[P.dL,-1.65,'\u22121.65','d'],[P.gL,-2.04,'\u22122.04','g'],[P.hL,-2.13,'\u22122.13','h']].forEach(([p,v,s,n])=>{
 const x=p.sx(0);mk('line',{x1:x,y1:p.sy(v),x2:x,y2:p.sy(0)+4,stroke:'#1e9a4a'},root,n+'-vbm-arrow');
 mk('path',{d:`M${x},${p.sy(0)+2}l-3,6h6z`,fill:'#1e9a4a'},root,n+'-vbm-arrowhead');
 txt(x,p.sy(-0.85),s,16,'#1e9a4a',root,n+'-vbm-label');});
mk('line',{x1:90,y1:P.dL.sy(-1.6),x2:463,y2:P.dL.sy(-1.6),stroke:'#2a9a8a','stroke-dasharray':'5,4'},root,'d-vbm-line');
mk('rect',{x:P.dL.sx(-0.4),y:P.dL.sy(0),width:P.dL.sx(0.4)-P.dL.sx(-0.4),height:P.dL.sy(-1.6)-P.dL.sy(0),fill:'none',stroke:'#2030e0','stroke-width':1.5,'stroke-dasharray':'5,3'},root,'d-zoom-box');
mk('path',{d:`M${P.dL.sx(0.4)},${P.dL.sy(-1.6)}L505,648 M${P.dL.sx(1.2)},${P.dL.sy(0)}L505,402`,stroke:'#4040d0','stroke-dasharray':'2,2',fill:'none'},root,'d-zoom-connector');
[[P.gL,P.gR,'g'],[P.hL,P.hR,'h']].forEach(([p,z,n])=>{
 mk('rect',{x:p.sx(0),y:p.sy(-1),width:p.sx(0.4)-p.sx(0),height:p.sy(-3.6)-p.sy(-1),fill:'none',stroke:'#2030e0','stroke-width':1.5,'stroke-dasharray':'5,3'},root,n+'-zoom-box');
 mk('path',{d:`M${p.sx(0.4)},${p.sy(-1)}L${z.x0},${z.y0} M${p.x1},${p.sy(-4.8)}L${z.x0},${z.y1}`,stroke:'#4040d0','stroke-dasharray':'2,2',fill:'none'},root,n+'-zoom-connector');
});
[[P.dL,'d'],[P.gL,'g'],[P.hL,'h']].forEach(([p,n])=>{const s=p.sx,y=p.sy,top=n==='d'?-1.6:(n==='g'?-2.04:-2.13);
 mk('path',{d:`M${s(-0.95)},${y(top-0.5)} Q${s(-0.4)},${y(top-0.35)} ${s(0)},${y(top)}`,fill:'none',stroke:'#2a8a6a','stroke-width':1.3},root,n+'-green-guide');
 mk('path',{d:n==='d'?`M${s(-0.85)},${y(-3.4)} Q${s(-0.5)},${y(-3.2)} ${s(-0.25)},${y(-2.5)} M${s(-0.85)},${y(-3.7)} Q${s(-0.55)},${y(-3.3)} ${s(-0.4)},${y(-3)}`:
  `M${s(-0.65)},${y(-2.6)} Q${s(-0.6)},${y(-3.3)} ${s(-0.55)},${y(-3.5)} M${s(-0.9)},${y(-3.5)} Q${s(-0.5)},${y(-3.5)} ${s(-0.15)},${y(-2.7)} M${s(-0.82)},${y(-4.5)} Q${s(-0.7)},${y(-3.8)} ${s(-0.6)},${y(-3.5)} M${s(-0.7)},${y(-4.6)} Q${s(-0.35)},${y(-4.3)} ${s(-0.12)},${y(-2.8)}`,fill:'none',stroke:'#d0202c','stroke-width':1.1},root,n+'-red-guides');
});
[[P.dR,'#2020d0','d'],[P.gR,'#2020d0','g'],[P.hR,'#2020d0','h'],[P.e,'#000','e'],[P.f,'#000','f']].forEach(([p,c,n])=>{
 if(n==='d'){rich(p.sx(-0.15),p.y1+44,kUnit('x'),15,c,'d-zoom-x-title','middle');
  rich(p.sx(0.13),p.y1+44,kUnit('y'),15,c,'d-zoom-x-title2','middle');
  mk('line',{x1:p.sx(0),y1:p.y1+28,x2:p.sx(0),y2:p.y1+50,stroke:c,'stroke-dasharray':'2,2'},root,'d-zoom-divider');}
 else rich(p.sx(0),p.y1+44,kUnit('y'),15,c,n+'-x-title','middle');
});
vtitle(855,P.e.sy(-2.2),EEF,'#000','e-y-title');vtitle(1218,P.f.sy(-1.0),EEF,'#000','f-y-title');

// ---- data marks ----
dirac(P.dR,dDirac,dDiracSlope,-1.3,'d-dirac-cone');
dirac(P.f,fDirac,fDiracSlope,-1.6,'f-dirac-cone');
parab(P.e,eGreen,-0.35,0.35,'#1e8a4a',1.4,'e-green-fit');
parab(P.e,eRed1,-0.35,0.35,'#e8141c',1.5,'e-red-fit-upper');
parab(P.e,eRed2,-0.24,0.25,'#e8141c',1.5,'e-red-fit-lower');
circles(P.e,eCircK,eCircE,'e-vbm-circle');pluses(P.e,ePlusK,ePlusE,'e-plus-point');crosses(P.e,eCrossK,eCrossE,'e-cross-point');
parab(P.f,fGreen,-0.33,0.31,'#1e9a4a',1.4,'f-green-fit');circles(P.f,fCircK,fCircE,'f-vbm-circle');
parab(P.gR,gGreen,-0.35,0.35,'#2a8a5a',1.4,'g-green-fit');parab(P.gR,gRed,-0.27,0.26,'#e8141c',1.5,'g-red-fit');
circles(P.gR,gCircK,gCircE,'g-vbm-circle');pluses(P.gR,gPlusK,gPlusE,'g-plus-point');
parab(P.hR,hGreen,-0.35,0.35,'#2a8a5a',1.4,'h-green-fit');parab(P.hR,hRed,-0.26,0.26,'#e8141c',1.5,'h-red-fit');
circles(P.hR,hCircK,hCircE,'h-vbm-circle');pluses(P.hR,hPlusK,hPlusE,'h-plus-point');
[[P.e,-1.66,'\u22121.65'],[P.gR,-2.05,'\u22122.04'],[P.hR,-2.13,'\u22122.13']].forEach(([p,v,s])=>{const x=p.sx(0.02),y=p.sy(v);
 mk('path',{d:`M${x+50},${y}H${x+6}`,stroke:'#fff','stroke-width':2.2},root,'vbm-white-arrow');
 mk('path',{d:`M${x},${y}l9,-4v8z`,fill:'#fff'},root,'vbm-white-arrowhead');
 txt(x+54,y+6,s,17,'#fff',root,'vbm-white-label','start');});
</script>
</body></html>
